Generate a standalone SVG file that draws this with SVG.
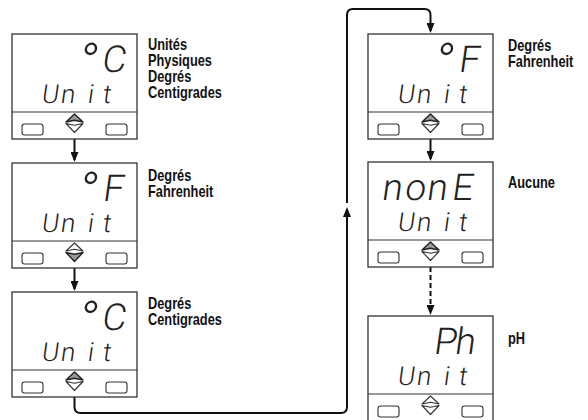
<svg xmlns="http://www.w3.org/2000/svg" xmlns:xlink="http://www.w3.org/1999/xlink" width="588" height="420" viewBox="0 0 588 420">
<style>
.box{fill:#fff;stroke:#333;stroke-width:1.3}
.sep{stroke:#333;stroke-width:1.2}
.btn{fill:#fff;stroke:#333;stroke-width:1.1}
.triO{fill:#fff;stroke:#333;stroke-width:1.1;stroke-linejoin:round}
.triF{fill:#9a9a9a;stroke:#222;stroke-width:1.4;stroke-linejoin:round}
.conn{fill:none;stroke:#111;stroke-width:2}
.dash{stroke-dasharray:5,3}
.lbl{font-family:"Liberation Sans",Arial,sans-serif;font-weight:bold;font-size:16px;fill:#111}
.seg{font-family:Roboto,"DejaVu Sans",sans-serif;font-weight:300;fill:#222}
.big{font-size:37px}
.sml{font-size:26px}
</style>
<defs>
<marker id="ah" viewBox="0 0 10 8" refX="8" refY="4" markerWidth="10" markerHeight="8" markerUnits="userSpaceOnUse" orient="auto">
<path d="M0,0 L10,4 L0,8 z" fill="#111"/>
</marker>
<g id="frame">
<rect class="box" x="0" y="0" width="125" height="105"/>
<line class="sep" x1="0" y1="78" x2="125" y2="78"/>
<rect class="btn" x="10" y="90" width="21" height="11" rx="2.5"/>
<rect class="btn" x="94" y="90" width="21" height="11" rx="2.5"/>
</g>
<polygon id="upO" class="triO" points="54,88 62.5,80 71,88 62.5,86.2"/>
<polygon id="upF" class="triF" points="54,88 62.5,80 71,88 62.5,86.2"/>
<polygon id="dnO" class="triO" points="54,89.5 62.5,91.3 71,89.5 62.5,98.5"/>
<polygon id="dnF" class="triF" points="54,89.5 62.5,91.3 71,89.5 62.5,98.5"/>
</defs>

<g id="connectors">
<path class="conn" d="M74.5,120 V160" marker-end="url(#ah)"/>
<path class="conn" d="M74.5,256 V289" marker-end="url(#ah)"/>
<path class="conn" d="M74.5,380 V407 Q74.5,413 80.5,413 H341 Q347,413 347,407 V209" marker-end="url(#ah)"/>
<path class="conn" d="M347,203 V15 Q347,9 353,9 H424.5 Q430.5,9 430.5,15 V31" marker-end="url(#ah)"/>
<path class="conn" d="M430.5,120 V159" marker-end="url(#ah)"/>
<path class="conn dash" d="M430.5,251 V313" marker-end="url(#ah)"/>
</g>

<g id="node-l1" transform="translate(12,34)">
<use xlink:href="#frame"/>
<use xlink:href="#upF"/>
<use xlink:href="#dnO"/>
<g transform="translate(0,38) skewX(-8)">
<text class="seg big"><tspan x="66" y="8" font-size="52">°</tspan><tspan x="89" y="0">C</tspan></text>
</g>
<g transform="translate(0,69) skewX(-8)">
<text class="seg sml" x="29 48 75 90" y="0">Unit</text>
</g>
</g>

<g id="node-l2" transform="translate(12,163)">
<use xlink:href="#frame"/>
<use xlink:href="#upO"/>
<use xlink:href="#dnF"/>
<g transform="translate(0,38) skewX(-8)">
<text class="seg big"><tspan x="66" y="8" font-size="52">°</tspan><tspan x="90" y="0">F</tspan></text>
</g>
<g transform="translate(0,69) skewX(-8)">
<text class="seg sml" x="29 48 75 90" y="0">Unit</text>
</g>
</g>

<g id="node-l3" transform="translate(12,292)">
<use xlink:href="#frame"/>
<use xlink:href="#upF"/>
<use xlink:href="#dnO"/>
<g transform="translate(0,38) skewX(-8)">
<text class="seg big"><tspan x="66" y="8" font-size="52">°</tspan><tspan x="89" y="0">C</tspan></text>
</g>
<g transform="translate(0,69) skewX(-8)">
<text class="seg sml" x="29 48 75 90" y="0">Unit</text>
</g>
</g>

<g id="node-r1" transform="translate(368,34)">
<use xlink:href="#frame"/>
<use xlink:href="#upF"/>
<use xlink:href="#dnO"/>
<g transform="translate(0,38) skewX(-8)">
<text class="seg big"><tspan x="66" y="8" font-size="52">°</tspan><tspan x="90" y="0">F</tspan></text>
</g>
<g transform="translate(0,69) skewX(-8)">
<text class="seg sml" x="29 48 75 90" y="0">Unit</text>
</g>
</g>

<g id="node-r2" transform="translate(368,162)">
<use xlink:href="#frame"/>
<use xlink:href="#upF"/>
<use xlink:href="#dnO"/>
<g transform="translate(0,38) skewX(-8)">
<text class="seg big" x="13 36 58 83" y="0">nonE</text>
</g>
<g transform="translate(0,69) skewX(-8)">
<text class="seg sml" x="29 48 75 90" y="0">Unit</text>
</g>
</g>

<g id="node-r3" transform="translate(368,316)">
<use xlink:href="#frame"/>
<use xlink:href="#upO"/>
<use xlink:href="#dnO"/>
<g transform="translate(0,38) skewX(-8)">
<text class="seg big" x="65 86" y="0">Ph</text>
</g>
<g transform="translate(0,69) skewX(-8)">
<text class="seg sml" x="29 48 75 90" y="0">Unit</text>
</g>
</g>

<g id="labels">
<g transform="translate(148,0) scale(0.8,1)">
<text class="lbl" x="0" y="50">Unités</text>
<text class="lbl" x="0" y="66">Physiques</text>
<text class="lbl" x="0" y="82">Degrés</text>
<text class="lbl" x="0" y="98">Centigrades</text>
<text class="lbl" x="0" y="181">Degrés</text>
<text class="lbl" x="0" y="197">Fahrenheit</text>
<text class="lbl" x="0" y="309">Degrés</text>
<text class="lbl" x="0" y="325">Centigrades</text>
</g>
<g transform="translate(508,0) scale(0.8,1)">
<text class="lbl" x="0" y="51">Degrés</text>
<text class="lbl" x="0" y="67">Fahrenheit</text>
<text class="lbl" x="0" y="188">Aucune</text>
<text class="lbl" x="0" y="344">pH</text>
</g>
</g>
</svg>
